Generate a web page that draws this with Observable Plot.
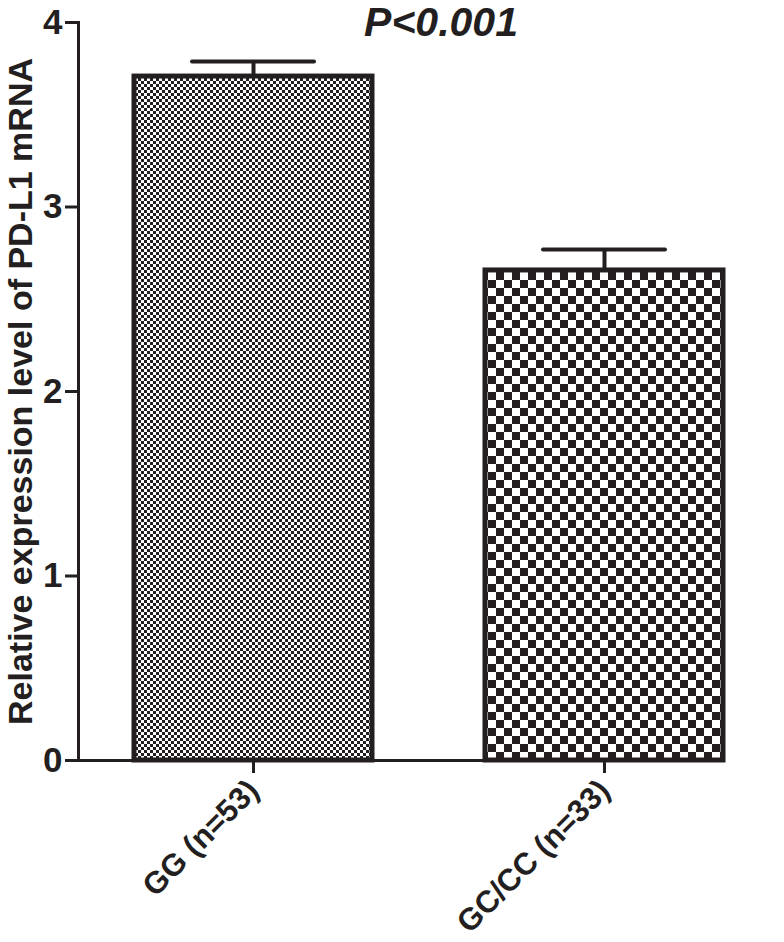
<!DOCTYPE html>
<html>
<head>
<meta charset="utf-8">
<script src="https://cdn.jsdelivr.net/npm/d3@7"></script>
<script src="https://cdn.jsdelivr.net/npm/@observablehq/plot@0.6"></script>
<style>
  html, body { margin: 0; padding: 0; background: #fff; }
  #chart svg { display: block; }
  #chart svg g[aria-label="y-axis tick label"], #chart svg g[aria-label="y-axis tick label"] text { font-size: 35px !important; }
  #chart svg g[aria-label="x-axis tick label"], #chart svg g[aria-label="x-axis tick label"] text { font-size: 31px !important; }
</style>
</head>
<body>
<div id="chart"></div>
<script>
const groups = ["GG (n=53)", "GC/CC (n=33)"];
const means = [3.707, 2.656];
const sems = [0.082, 0.114];
const yTicks = [0, 1, 2, 3, 4];
const yTitle = "Relative expression level of PD-L1 mRNA";
const pLabel = "P<0.001";

const data = groups.map((g, i) => ({group: g, mean: means[i], sem: sems[i], idx: i}));
const ink = "#231f20";
const patternIds = ["fineCheck", "coarseCheck"];

function defs() {
  const ns = "http://www.w3.org/2000/svg";
  const d = document.createElementNS(ns, "defs");
  const make = (id, cell) => {
    const p = document.createElementNS(ns, "pattern");
    p.setAttribute("id", id);
    p.setAttribute("patternUnits", "userSpaceOnUse");
    p.setAttribute("width", cell * 2);
    p.setAttribute("height", cell * 2);
    const bg = document.createElementNS(ns, "rect");
    bg.setAttribute("width", cell * 2); bg.setAttribute("height", cell * 2); bg.setAttribute("fill", "#fff");
    p.appendChild(bg);
    for (const [x, y] of [[0, 0], [cell, cell]]) {
      const r = document.createElementNS(ns, "rect");
      r.setAttribute("x", x); r.setAttribute("y", y);
      r.setAttribute("width", cell); r.setAttribute("height", cell);
      r.setAttribute("fill", ink);
      p.appendChild(r);
    }
    d.appendChild(p);
  };
  make(patternIds[0], 3);
  make(patternIds[1], 8);
  return d;
}

const chart = Plot.plot({
  width: 784,
  height: 942,
  marginTop: 22,
  marginBottom: 182,
  marginLeft: 78,
  marginRight: 61,
  style: {fontFamily: "'Liberation Sans', Arial, sans-serif", fontWeight: "bold", fontSize: "31px", color: ink, background: "#fff"},
  x: {domain: groups, range: [134, 723], paddingInner: 0.323, paddingOuter: 0, label: null},
  y: {domain: [0, 4], label: null},
  color: {type: "identity"},
  marks: [
    defs,
    Plot.barY(data, {x: "group", y: "mean", fill: d => `url(#${patternIds[d.idx]})`, stroke: ink, strokeWidth: 5}),
    Plot.ruleX(data, {x: "group", y1: "mean", y2: d => d.mean + d.sem, stroke: ink, strokeWidth: 4}),
    Plot.tickY(data, {x: "group", y: d => d.mean + d.sem, stroke: ink, strokeWidth: 4, strokeLinecap: "round", insetLeft: 58, insetRight: 58}),
    Plot.frame({anchor: "left", stroke: ink, strokeWidth: 3}),
    Plot.ruleY([0], {stroke: ink, strokeWidth: 3}),
    Plot.axisY({ticks: yTicks, tickFormat: d3.format("d"), tickSize: 13, tickPadding: 3, strokeWidth: 3, label: null}),
    Plot.axisX({tickSize: 13, tickPadding: 12, tickRotate: -45, strokeWidth: 3, label: null}),
    Plot.text([yTitle], {frameAnchor: "left", textAnchor: "middle", rotate: -90, dx: -57, fontSize: 34, fontWeight: "bold", fill: ink}),
    Plot.text([pLabel], {frameAnchor: "top", dx: 40, dy: -16, fontSize: 41, fontWeight: "bold", fontStyle: "italic", fill: ink})
  ]
});
document.getElementById("chart").appendChild(chart);
</script>
</body>
</html>
